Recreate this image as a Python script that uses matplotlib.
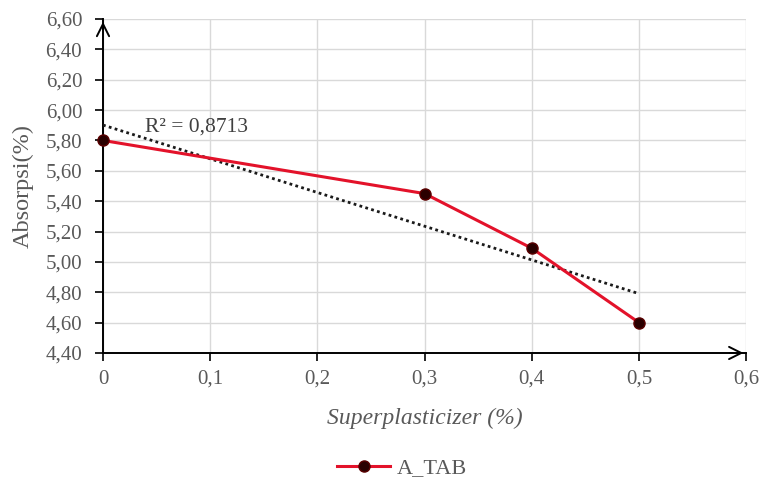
import matplotlib
matplotlib.use("Agg")
import matplotlib.pyplot as plt
import numpy as np
from matplotlib.ticker import FuncFormatter, MultipleLocator

# Data
superplasticizer = [0.0, 0.3, 0.4, 0.5]
absorpsi = [5.80, 5.45, 5.09, 4.60]
series_name = "A_TAB"
r2_label = "R² = 0,8713"

plt.rcParams['font.family'] = ['Liberation Serif', 'DejaVu Serif']

fig = plt.figure(figsize=(7.63, 4.84), dpi=100)
ax = fig.add_axes([0.135, 0.2707, 0.843, 0.69])

tick_color = "#595959"

# Linear trendline
coef = np.polyfit(superplasticizer, absorpsi, 1)
xt = np.array([min(superplasticizer), max(superplasticizer)])
ax.plot(xt, np.polyval(coef, xt), linestyle=(0, (1, 1.2)), color="#1a1a1a",
        linewidth=2.0, zorder=3)

# Series
ax.plot(superplasticizer, absorpsi, color="#e3122a", linewidth=2.2,
        marker="o", markersize=8, markerfacecolor="#2a0000",
        markeredgecolor="#5a0000", label=series_name, zorder=4,
        clip_on=False)

ax.text(0.039, 5.887, r2_label, fontsize=15.5, color="#404040",
        va="center", ha="left")

ax.set_xlim(0, 0.6)
ax.set_ylim(4.40, 6.60)
ax.xaxis.set_major_locator(MultipleLocator(0.1))
ax.yaxis.set_major_locator(MultipleLocator(0.2))

def xfmt(v, pos):
    s = f"{v:.1f}".replace(".", ",")
    return "0" if abs(v) < 1e-9 else s

ax.xaxis.set_major_formatter(FuncFormatter(xfmt))
ax.yaxis.set_major_formatter(FuncFormatter(lambda v, p: f"{v:.2f}".replace(".", ",")))

ax.grid(True, color="#d9d9d9", linewidth=1.0)
ax.set_axisbelow(True)

for side in ("top", "right"):
    ax.spines[side].set_visible(False)
for side in ("left", "bottom"):
    ax.spines[side].set_color("#000000")
    ax.spines[side].set_linewidth(1.4)

ax.tick_params(axis="both", direction="out", length=6, width=1.2,
               color="#000000", labelcolor=tick_color, labelsize=15)
ax.tick_params(axis="x", pad=6)
ax.tick_params(axis="y", pad=9)

# Arrow heads at axis ends
ax.annotate("", xy=(1.0, 0), xytext=(0.97, 0), xycoords="axes fraction",
            arrowprops=dict(arrowstyle="->", color="#000000", lw=1.4,
                            mutation_scale=22), zorder=5)
ax.annotate("", xy=(0, 1.0), xytext=(0, 0.96), xycoords="axes fraction",
            arrowprops=dict(arrowstyle="->", color="#000000", lw=1.4,
                            mutation_scale=22), zorder=5)

ax.set_xlabel("Superplasticizer (%)", fontsize=17, color=tick_color,
              style="italic")
ax.xaxis.set_label_coords(0.5, -0.165)
ax.set_ylabel("Absorpsi(%)", fontsize=17.5, color=tick_color)
ax.yaxis.set_label_coords(-0.108, 0.5)

fig.legend(loc="center", bbox_to_anchor=(0.527, 0.033), frameon=False,
           fontsize=16, labelcolor=tick_color, handlelength=2.4,
           handletextpad=0.3)

fig.savefig("out.png", dpi=100)
